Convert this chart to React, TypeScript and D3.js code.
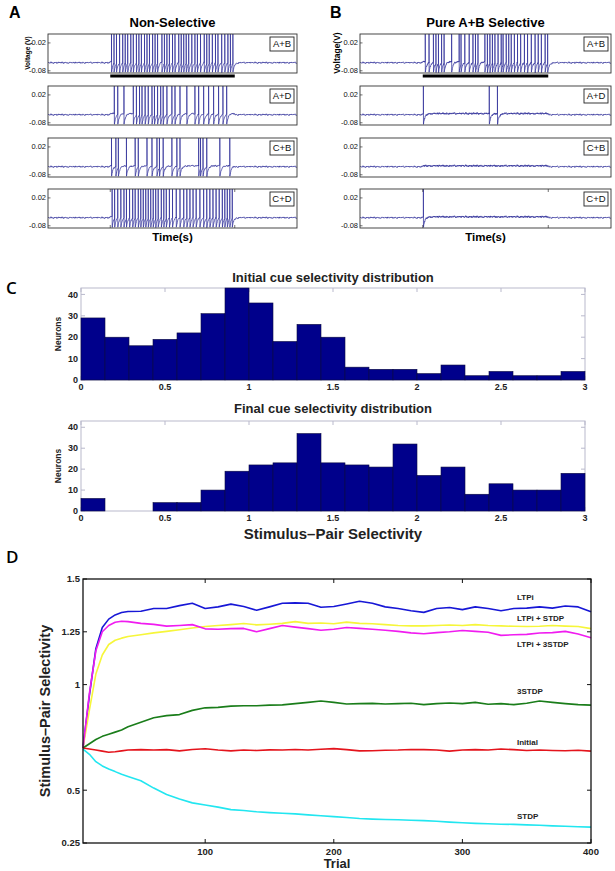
import React from 'react';
import * as d3 from 'd3';

// ---------- Panel A / B data ----------
const TRACE_LABELS = ['A+B', 'A+D', 'C+B', 'C+D'];
const STIM = [1, 3];
const V_TICKS = [0.02, -0.08];
const SPIKES_NONSEL = [
  [1.02, 1.06, 1.1, 1.15, 1.2, 1.24, 1.28, 1.33, 1.37, 1.42, 1.46, 1.5, 1.55, 1.59, 1.63, 1.68, 1.72, 1.76, 1.83, 1.87, 1.91, 1.95, 2.0, 2.04, 2.1, 2.14, 2.18, 2.22, 2.26, 2.31, 2.36, 2.4, 2.45, 2.51, 2.55, 2.59, 2.64, 2.69, 2.73, 2.79, 2.84, 2.89, 2.93, 2.97],
  [1.065, 1.12, 1.22, 1.37, 1.42, 1.47, 1.51, 1.56, 1.61, 1.67, 1.71, 1.76, 1.81, 1.85, 1.91, 1.99, 2.04, 2.12, 2.23, 2.36, 2.42, 2.5, 2.58, 2.66, 2.74, 2.81, 2.87],
  [1.02, 1.09, 1.13, 1.26, 1.4, 1.45, 1.59, 1.67, 1.75, 1.79, 1.85, 1.99, 2.07, 2.12, 2.42, 2.45, 2.49, 2.55, 2.76, 2.92],
  [1.03, 1.07, 1.12, 1.17, 1.22, 1.26, 1.31, 1.36, 1.4, 1.45, 1.49, 1.53, 1.57, 1.61, 1.65, 1.69, 1.73, 1.77, 1.82, 1.86, 1.9, 1.95, 2.0, 2.06, 2.12, 2.18, 2.23, 2.28, 2.33, 2.38, 2.44, 2.5, 2.55, 2.6, 2.65, 2.7, 2.75, 2.8, 2.84, 2.88, 2.92, 2.96],
];
const SPIKES_PURE = [
  [1.04, 1.1, 1.17, 1.21, 1.25, 1.3, 1.34, 1.46, 1.58, 1.61, 1.67, 1.74, 1.8, 1.84, 1.88, 1.99, 2.03, 2.07, 2.11, 2.15, 2.2, 2.25, 2.28, 2.33, 2.37, 2.41, 2.46, 2.51, 2.56, 2.62, 2.67, 2.73, 2.79, 2.84, 2.89, 2.95, 2.99],
  [1.01, 2.06, 2.19],
  [],
  [1.01],
];
// hand-typed membrane noise table (texture)
const NOISE = [0.3, -0.5, 0.8, -0.2, -0.9, 0.4, 0.1, -0.6, 0.7, 0.2, -0.3, 0.9, -0.7, 0.0, 0.5, -0.4, -0.8, 0.6, 0.2, -0.1, 0.4, -0.6, 0.8, -0.3, 0.1, 0.7, -0.5, -0.2, 0.6, -0.9, 0.3, 0.0, -0.4, 0.5, 0.9, -0.7, 0.2, -0.1, 0.6, -0.3, 0.4];

// ---------- Panel C data ----------
const HIST_TICKS = [0, 0.5, 1, 1.5, 2, 2.5, 3];
const COUNT_TICKS = [0, 10, 20, 30, 40];
const INITIAL_COUNTS = [29, 20, 16, 19, 22, 31, 43, 36, 18, 26, 20, 6, 5, 5, 3, 7, 2, 4, 2, 2, 4];
const FINAL_COUNTS = [6, 0, 0, 4, 4, 10, 19, 22, 23, 37, 23, 22, 21, 32, 17, 21, 8, 13, 10, 10, 18];

// ---------- Panel D data ----------
const TRIALS = [5, 10, 15, 20, 25, 30, 35, 40, 50, 60, 70, 80, 90, 100, 110, 120, 130, 140, 150, 160, 170, 180, 190, 200, 210, 220, 230, 240, 250, 260, 270, 280, 290, 300, 310, 320, 330, 340, 350, 360, 370, 380, 390, 400];
const LTPI = [0.7, 0.95, 1.17, 1.27, 1.31, 1.33, 1.341, 1.346, 1.347, 1.36, 1.36, 1.374, 1.385, 1.36, 1.368, 1.381, 1.37, 1.352, 1.368, 1.385, 1.387, 1.385, 1.366, 1.37, 1.382, 1.395, 1.385, 1.368, 1.36, 1.35, 1.342, 1.36, 1.365, 1.355, 1.368, 1.36, 1.35, 1.36, 1.362, 1.368, 1.362, 1.372, 1.368, 1.345];
const LTPI_STDP = [0.7, 0.88, 1.05, 1.14, 1.19, 1.21, 1.22, 1.228, 1.236, 1.245, 1.252, 1.26, 1.268, 1.275, 1.28, 1.284, 1.289, 1.283, 1.286, 1.29, 1.298, 1.29, 1.292, 1.288, 1.296, 1.29, 1.288, 1.284, 1.28, 1.278, 1.278, 1.28, 1.282, 1.28, 1.284, 1.28, 1.278, 1.276, 1.275, 1.276, 1.28, 1.277, 1.275, 1.265];
const LTPI_3STDP = [0.7, 0.96, 1.16, 1.25, 1.28, 1.295, 1.3, 1.298, 1.29, 1.285, 1.277, 1.28, 1.284, 1.264, 1.262, 1.265, 1.266, 1.25, 1.265, 1.28, 1.272, 1.265, 1.257, 1.262, 1.27, 1.266, 1.262, 1.257, 1.252, 1.245, 1.241, 1.246, 1.25, 1.256, 1.252, 1.248, 1.233, 1.236, 1.238, 1.244, 1.246, 1.252, 1.24, 1.222];
const STDP3 = [0.7, 0.72, 0.74, 0.755, 0.765, 0.775, 0.785, 0.8, 0.822, 0.843, 0.853, 0.858, 0.878, 0.89, 0.892, 0.898, 0.9, 0.9, 0.903, 0.904, 0.91, 0.916, 0.922, 0.916, 0.908, 0.91, 0.911, 0.908, 0.91, 0.912, 0.905, 0.91, 0.913, 0.91, 0.916, 0.907, 0.91, 0.905, 0.912, 0.922, 0.916, 0.91, 0.905, 0.903];
const INITIAL = [0.7, 0.695, 0.69, 0.685, 0.68, 0.682, 0.686, 0.69, 0.692, 0.69, 0.692, 0.686, 0.693, 0.696, 0.69, 0.686, 0.69, 0.688, 0.691, 0.69, 0.693, 0.69, 0.694, 0.697, 0.692, 0.686, 0.687, 0.689, 0.69, 0.693, 0.692, 0.69, 0.685, 0.69, 0.692, 0.69, 0.695, 0.692, 0.688, 0.69, 0.688, 0.687, 0.689, 0.685];
const STDP = [0.695, 0.67, 0.635, 0.615, 0.6, 0.588, 0.575, 0.565, 0.545, 0.51, 0.48, 0.458, 0.44, 0.43, 0.42, 0.408, 0.404, 0.398, 0.394, 0.391, 0.388, 0.383, 0.379, 0.375, 0.371, 0.366, 0.363, 0.361, 0.36, 0.358, 0.356, 0.353, 0.349, 0.346, 0.343, 0.341, 0.339, 0.338, 0.336, 0.334, 0.331, 0.329, 0.327, 0.325];
const SERIES_NAMES = ['LTPi', 'LTPi + STDP', 'LTPi + 3STDP', '3STDP', 'Initial', 'STDP'];
const SERIES_VALUES = [LTPI, LTPI_STDP, LTPI_3STDP, STDP3, INITIAL, STDP];
const SERIES_COLORS = ['#1717d6', '#f6f63a', '#f01cf0', '#1a7d1a', '#e4141c', '#22e6f0'];
const SERIES_LABEL_Y = [1.415, 1.315, 1.192, 0.97, 0.728, 0.378];
const D_Y_TICKS = [0.25, 0.5, 1, 1.25, 1.5];
const D_X_TICKS = [100, 200, 300, 400];

const SANS = "'Liberation Sans', Arial, Helvetica, sans-serif";
const NARROW = "'Liberation Sans Narrow', 'Liberation Sans', Arial, sans-serif";
const TRACE_COLOR = '#30309a';

const REST = -0.051;
const PEAK = 0.06;
const AHP = -0.085;
const TAU = 0.024;

function tracePoints(spikes: number[], stimShift: number, stimNoise: number): [number, number][] {
  const dt = 0.004;
  const pts: [number, number][] = [];
  let last = -10;
  let k = 0;
  for (let i = 0; i * dt <= 4.0001; i++) {
    const t = i * dt;
    if (pts.length && t < pts[pts.length - 1][0]) continue;
    const inStim = t >= STIM[0] && t <= STIM[1];
    const base = REST + (inStim ? stimShift : 0);
    const amp = inStim ? stimNoise : 0.0016;
    const n = NOISE[i % NOISE.length] * amp + NOISE[Math.floor(i / 5) % NOISE.length] * 0.0022;
    let v = base + n;
    if (t - last < 0.4) v = v - (base - AHP) * Math.exp(-(t - last) / TAU);
    pts.push([t, v]);
    while (k < spikes.length && spikes[k] < t + dt) {
      const s = Math.max(spikes[k], t);
      pts.push([s, v]);
      pts.push([s, PEAK]);
      pts.push([s + 0.0015, AHP]);
      last = s + 0.0015;
      k++;
    }
  }
  return pts;
}

type TraceProps = {
  x0: number; x1: number; top: number; h: number; spikes: number[]; label: string;
  idx: number; panel: string; stimShift: number; stimNoise: number; last: boolean;
};

function Trace({ x0, x1, top, h, spikes, label, idx, panel, stimShift, stimNoise, last }: TraceProps) {
  const x = d3.scaleLinear().domain([0, 4]).range([x0, x1]);
  const y = d3.scaleLinear().domain([-0.088, 0.052]).range([top + h, top]);
  const pts = tracePoints(spikes, stimShift, stimNoise);
  const line = d3.line<[number, number]>().x(d => x(d[0])).y(d => y(d[1]));
  const cid = `clip-${panel}-${idx}`;
  return (
    <g>
      <defs>
        <clipPath id={cid}>
          <rect x={x0} y={top} width={x1 - x0} height={h} />
        </clipPath>
      </defs>
      <rect x={x0} y={top} width={x1 - x0} height={h} fill="white" />
      <path d={line(pts) || ''} fill="none" stroke={TRACE_COLOR} strokeWidth={0.75} clipPath={`url(#${cid})`} />
      <rect x={x0} y={top} width={x1 - x0} height={h} fill="none" stroke="#333" strokeWidth={0.9} />
      {V_TICKS.map(v => (
        <g key={v}>
          <line x1={x0} x2={x0 + 2.5} y1={y(v)} y2={y(v)} stroke="#333" strokeWidth={0.7} />
          <text x={x0 - 2} y={y(v) + 2.5} textAnchor="end" fontFamily={NARROW} fontSize={7.5} fill="#111">
            {v === 0.02 ? '0.02' : '-0.08'}
          </text>
        </g>
      ))}
      {last && STIM.map(t => (
        <g key={t}>
          <line x1={x(t)} x2={x(t)} y1={top} y2={top + 3} stroke="#333" strokeWidth={0.7} />
          <line x1={x(t)} x2={x(t)} y1={top + h} y2={top + h - 3} stroke="#333" strokeWidth={0.7} />
        </g>
      ))}
      <rect x={x1 - 27} y={top + 3} width={24} height={14} fill="white" stroke="#222" strokeWidth={0.9} />
      <text x={x1 - 15} y={top + 13.3} textAnchor="middle" fontFamily={NARROW} fontSize={9.5} fill="#111">{label}</text>
      {idx === 0 && (
        <line x1={x(STIM[0])} x2={x(STIM[1])} y1={top + h + 3} y2={top + h + 3} stroke="#000" strokeWidth={3} />
      )}
    </g>
  );
}

function TracePanel({ x0, x1, spikes, panel, title, letter, letterX, vlabel, vlabelX, vlabelSize, stimShift, stimNoise }: any) {
  const tops = [34, 86, 138, 189];
  const h = 39;
  return (
    <g>
      <text x={letterX} y={18} fontFamily={SANS} fontWeight="bold" fontSize={16}>{letter}</text>
      <text x={(x0 + x1) / 2} y={27} textAnchor="middle" fontFamily={SANS} fontWeight="bold" fontSize={13}>{title}</text>
      <text transform={`translate(${vlabelX},53) rotate(-90)`} textAnchor="middle" fontFamily={SANS} fontWeight="bold" fontSize={vlabelSize}>{vlabel}</text>
      {TRACE_LABELS.map((lab, i) => (
        <Trace key={lab} x0={x0} x1={x1} top={tops[i]} h={h} spikes={spikes[i]} label={lab} idx={i} panel={panel}
          stimShift={stimShift[i]} stimNoise={stimNoise[i]} last={i === 3} />
      ))}
      <text x={(x0 + x1) / 2} y={241} textAnchor="middle" fontFamily={NARROW} fontWeight="bold" fontSize={11.5}>Time(s)</text>
    </g>
  );
}

function Histogram({ counts, top, bottom, title, titleY, showXLabel }: any) {
  const x = d3.scaleLinear().domain([0, 3]).range([81, 585]);
  const y = d3.scaleLinear().domain([0, 43]).range([bottom, top]);
  const bw = 3 / counts.length;
  const frame = '#b9b9cc';
  return (
    <g>
      <text x={(81 + 585) / 2} y={titleY} textAnchor="middle" fontFamily={SANS} fontWeight="bold" fontSize={13} fill="#222">{title}</text>
      <rect x={81} y={top} width={504} height={bottom - top} fill="white" stroke={frame} strokeWidth={1} />
      {HIST_TICKS.map(t => (
        <g key={t}>
          <line x1={x(t)} x2={x(t)} y1={bottom} y2={bottom - 4} stroke={frame} />
          <line x1={x(t)} x2={x(t)} y1={top} y2={top + 4} stroke={frame} />
          <text x={x(t)} y={bottom + 10} textAnchor="middle" fontFamily={SANS} fontWeight="bold" fontSize={9} fill="#222">{String(t)}</text>
        </g>
      ))}
      {COUNT_TICKS.map(c => (
        <g key={c}>
          <line x1={81} x2={85} y1={y(c)} y2={y(c)} stroke={frame} />
          <line x1={585} x2={581} y1={y(c)} y2={y(c)} stroke={frame} />
          <text x={78} y={y(c) + 3.2} textAnchor="end" fontFamily={SANS} fontWeight="bold" fontSize={9} fill="#222">{c}</text>
        </g>
      ))}
      {counts.map((c: number, i: number) => c > 0 && (
        <rect key={i} x={x(i * bw)} y={y(c)} width={x((i + 1) * bw) - x(i * bw)} height={bottom - y(c)}
          fill="#00008b" stroke="#0a0a40" strokeWidth={0.6} />
      ))}
      <text transform={`translate(61,${(top + bottom) / 2}) rotate(-90)`} textAnchor="middle" fontFamily={SANS} fontWeight="bold" fontSize={8.5} fill="#222">Neurons</text>
      {showXLabel && (
        <text x={(81 + 585) / 2} y={539} textAnchor="middle" fontFamily={SANS} fontWeight="bold" fontSize={15} fill="#222">Stimulus–Pair Selectivity</text>
      )}
    </g>
  );
}

function PanelD() {
  const left = 83, right = 591, top = 579, bottom = 843;
  const x = d3.scaleLinear().domain([5, 400]).range([left, right]);
  const y = d3.scaleLinear().domain([0.25, 1.5]).range([bottom, top]);
  const line = d3.line<number>().x((_, i) => x(TRIALS[i])).y(d => y(d));
  return (
    <g>
      <text x={6} y={563} fontFamily="'Open Sans', sans-serif" fontWeight={600} fontSize={17}>D</text>
      <rect x={left} y={top} width={right - left} height={bottom - top} fill="white" />
      {SERIES_VALUES.map((vals, i) => (
        <path key={i} d={line(vals) || ''} fill="none" stroke={SERIES_COLORS[i]} strokeWidth={1.6} strokeLinejoin="round" />
      ))}
      <rect x={left} y={top} width={right - left} height={bottom - top} fill="none" stroke="#111" strokeWidth={1.3} />
      {D_X_TICKS.map(t => (
        <g key={t}>
          <line x1={x(t)} x2={x(t)} y1={bottom} y2={bottom - 4} stroke="#111" />
          <line x1={x(t)} x2={x(t)} y1={top} y2={top + 4} stroke="#111" />
          <text x={x(t)} y={855} textAnchor="middle" fontFamily={SANS} fontWeight="bold" fontSize={9.5} fill="#222">{t}</text>
        </g>
      ))}
      {D_Y_TICKS.map(v => (
        <g key={v}>
          <line x1={left} x2={left + 4} y1={y(v)} y2={y(v)} stroke="#111" />
          <line x1={right} x2={right - 4} y1={y(v)} y2={y(v)} stroke="#111" />
          <text x={left - 3} y={y(v) + 3.3} textAnchor="end" fontFamily={SANS} fontWeight="bold" fontSize={9.5} fill="#222">{String(v)}</text>
        </g>
      ))}
      {SERIES_NAMES.map((n, i) => (
        <text key={n} x={517} y={y(SERIES_LABEL_Y[i]) + 3} fontFamily={SANS} fontWeight="bold" fontSize={8} fill="#222">{n}</text>
      ))}
      <text x={(left + right) / 2} y={868} textAnchor="middle" fontFamily={SANS} fontWeight="bold" fontSize={13} fill="#222">Trial</text>
      <text transform={`translate(50,${(top + bottom) / 2}) rotate(-90)`} textAnchor="middle" fontFamily={SANS} fontWeight="bold" fontSize={14.5} fill="#222">Stimulus–Pair Selectivity</text>
    </g>
  );
}

export default function App() {
  return (
    <svg width={615} height={871} viewBox="0 0 615 871" style={{ position: 'absolute', left: 0, top: 0, background: 'white' }}>
      <rect width={615} height={871} fill="white" />
      <TracePanel x0={48} x1={297} spikes={SPIKES_NONSEL} panel="A" title="Non-Selective" letter="A" letterX={9}
        vlabel="Voltage (V)" vlabelX={30} vlabelSize={6.5}
        stimShift={[0.004, 0.004, 0.003, 0.004]} stimNoise={[0.0016, 0.0016, 0.0016, 0.0016]} />
      <TracePanel x0={360} x1={611} spikes={SPIKES_PURE} panel="B" title="Pure A+B Selective" letter="B" letterX={330}
        vlabel="Voltage(V)" vlabelX={340} vlabelSize={8.5}
        stimShift={[0.004, 0.004, 0.003, 0.003]} stimNoise={[0.0028, 0.0028, 0.0028, 0.0028]} />
      <text x={6} y={294} fontFamily="'Open Sans', sans-serif" fontWeight={600} fontSize={17}>C</text>
      <Histogram counts={INITIAL_COUNTS} top={288} bottom={380} title="Initial cue selectivity distribution" titleY={282} showXLabel={false} />
      <Histogram counts={FINAL_COUNTS} top={421} bottom={511} title="Final cue selectivity distribution" titleY={413} showXLabel={true} />
      <PanelD />
    </svg>
  );
}
